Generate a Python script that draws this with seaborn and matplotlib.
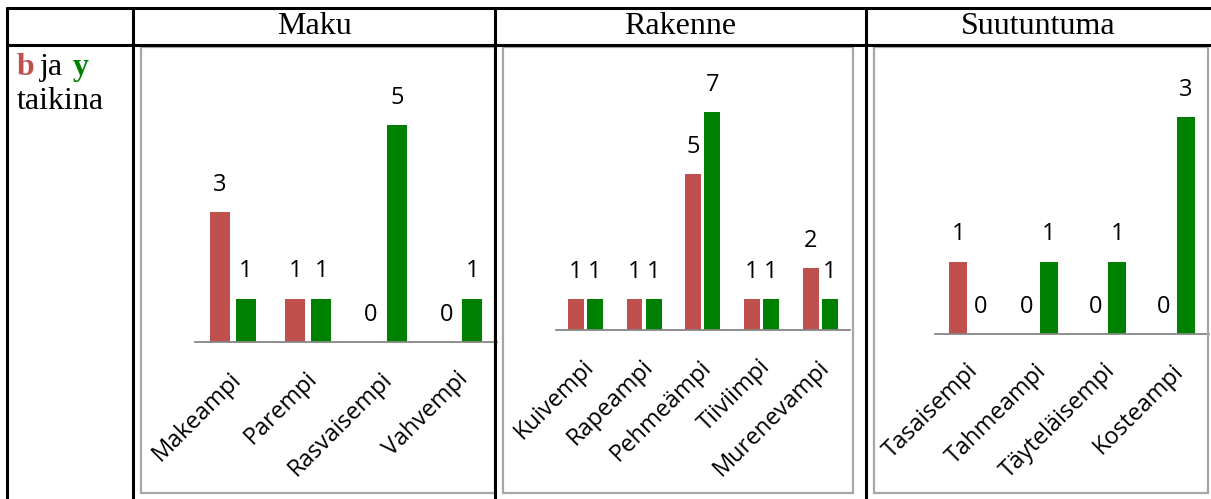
import matplotlib
matplotlib.use("Agg")
import matplotlib.pyplot as plt
from matplotlib.lines import Line2D
from matplotlib.patches import Rectangle
from matplotlib.transforms import ScaledTranslation
import pandas as pd
import seaborn as sns

# ---- data ----
maku_cats = ["Makeampi", "Parempi", "Rasvaisempi", "Vahvempi"]
maku_b = [3, 1, 0, 0]
maku_y = [1, 1, 5, 1]

rakenne_cats = ["Kuivempi", "Rapeampi", "Pehmeämpi", "Tiiviimpi", "Murenevampi"]
rakenne_b = [1, 1, 5, 1, 2]
rakenne_y = [1, 1, 7, 1, 1]

suu_cats = ["Tasaisempi", "Tahmeampi", "Täyteläisempi", "Kosteampi"]
suu_b = [1, 0, 0, 0]
suu_y = [0, 1, 1, 3]

headers = ["Maku", "Rakenne", "Suutuntuma"]

RED = "#C0504D"
GREEN = "#008000"
GRID = "#A6A6A6"
AXIS = "#868686"

W, H = 1211, 499
sns.set_theme(style="white")
plt.rcParams["font.family"] = ["Open Sans", "DejaVu Sans"]

fig = plt.figure(figsize=(W / 100, H / 100), dpi=100)
fig.patch.set_facecolor("white")


def fx(x):
    return x / W


def fy(y):
    return 1 - y / H


def hline(x0, x1, y, color="black", lw=2.2):
    fig.add_artist(Line2D([fx(x0), fx(x1)], [fy(y), fy(y)], color=color, lw=lw,
                          transform=fig.transFigure, solid_capstyle="butt",
                          zorder=5))


def vline(x, y0, y1, color="black", lw=2.2):
    fig.add_artist(Line2D([fx(x), fx(x)], [fy(y0), fy(y1)], color=color, lw=lw,
                          transform=fig.transFigure, solid_capstyle="butt",
                          zorder=5))


# chart frames
for (x0, x1) in [(141, 495), (503, 853), (874, 1208)]:
    fig.add_artist(Rectangle((fx(x0), fy(493)), fx(x1 - x0), (493 - 47) / H,
                             transform=fig.transFigure, fill=False,
                             edgecolor=GRID, lw=1.6, zorder=1))

# ---- table grid ----
hline(6, W, 7.5)
hline(6, W, 45)
for x in [7, 133, 495, 866]:
    vline(x, 6.5, H)

SERIF = "Liberation Serif"
HSIZE = 23

# column headers
for name, (x0, x1) in zip(headers, [(133, 495), (495, 866), (866, 1210)]):
    fig.text(fx((x0 + x1) / 2), fy(27), name, ha="center", va="center",
             fontsize=HSIZE, family=SERIF, color="black")

# row label
fig.text(fx(17), fy(75), "b", fontsize=HSIZE, family=SERIF,
         fontweight="bold", color=RED, va="baseline")
fig.text(fx(40), fy(75), "ja", fontsize=HSIZE, family=SERIF,
         color="black", va="baseline")
fig.text(fx(73), fy(75), "y", fontsize=HSIZE, family=SERIF,
         fontweight="bold", color=GREEN, va="baseline")
fig.text(fx(17), fy(109), "taikina", fontsize=HSIZE, family=SERIF,
         color="black", va="baseline")

# ---- bar panels ----
# (categories, b, y, plot left px, plot right px, baseline px, px per unit, width, gap)
panels = [
    (maku_cats, maku_b, maku_y, 195, 497, 342, 43.4, 0.69, 0.23),
    (rakenne_cats, rakenne_b, rakenne_y, 556, 849.5, 330, 31.1, 0.65, 0.17),
    (suu_cats, suu_b, suu_y, 935, 1209, 334, 72.3, 0.64, 0.16),
]
top_px = 55

for cats, b, y, left, right, base, unit, width, gap in panels:
    ax = fig.add_axes([fx(left), fy(base), fx(right - left), (base - top_px) / H])
    n = len(cats)
    df = pd.DataFrame({
        "kategoria": cats * 2,
        "arvo": b + y,
        "taikina": ["b"] * n + ["y"] * n,
    })
    sns.barplot(data=df, x="kategoria", y="arvo", hue="taikina", order=cats,
                palette={"b": RED, "y": GREEN}, saturation=1, width=width,
                gap=gap, errorbar=None, legend=False, linewidth=0, ax=ax)
    ax.set_ylim(0, (base - top_px) / unit)
    ax.set_xlim(-0.5, n - 0.5)
    ax.set_facecolor("none")
    for cont in ax.containers:
        ax.bar_label(cont, fmt="%g", padding=11, fontsize=17, color="black")
    for side in ["top", "left", "right"]:
        ax.spines[side].set_visible(False)
    ax.spines["bottom"].set_color(AXIS)
    ax.spines["bottom"].set_linewidth(1.3)
    ax.set_yticks([])
    ax.set_xlabel("")
    ax.set_ylabel("")
    ax.tick_params(axis="x", length=0, pad=18, labelsize=17, colors="black")
    for lab in ax.get_xticklabels():
        lab.set_rotation(45)
        lab.set_ha("right")
        lab.set_va("top")
        lab.set_rotation_mode("anchor")
        lab.set_transform(lab.get_transform() +
                          ScaledTranslation(-0.03, 0, fig.dpi_scale_trans))

fig.savefig("out.png", dpi=100)
